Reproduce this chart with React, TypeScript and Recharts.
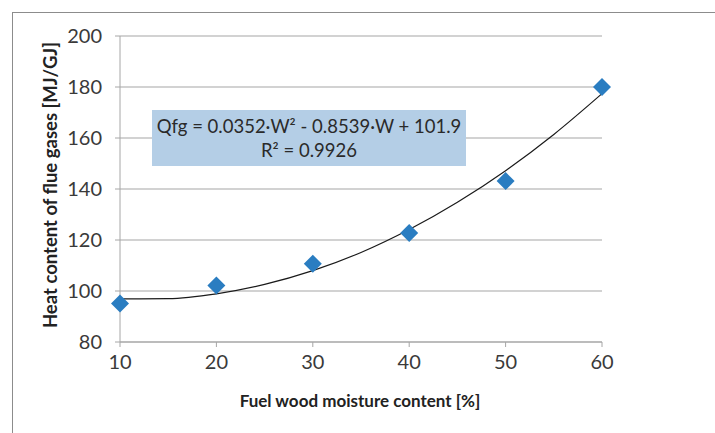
import React from "react";
import { ComposedChart, XAxis, YAxis, CartesianGrid, Line, Scatter } from "recharts";

const moisture = [10, 20, 30, 40, 50, 60];
const heatContent = [95.1, 102.2, 110.7, 122.7, 143.1, 180.0];

const trendMoisture = [10, 15, 20, 25, 30, 35, 40, 45, 50, 55, 60];
const trendHeat = [96.9, 97.0, 98.9, 102.6, 108.0, 115.1, 124.1, 134.8, 147.2, 161.4, 177.4];

const xTicks = [10, 20, 30, 40, 50, 60];
const yTicks = [80, 100, 120, 140, 160, 180, 200];

const equationText = "Qfg = 0.0352·W² - 0.8539·W + 101.9";
const r2Text = "R² = 0.9926";
const xTitle = "Fuel wood moisture content [%]";
const yTitle = "Heat content of flue gases [MJ/GJ]";

const points = moisture.map((w, i) => ({ w, q: heatContent[i] }));
const trend = trendMoisture.map((w, i) => ({ w, q: trendHeat[i] }));

const FONT = "Lato, 'Open Sans', sans-serif";
const AXIS_GRAY = "#a6a6a6";
const BLUE = "#2a7dc1";

const Diamond = (props: any) => {
  const { cx, cy } = props;
  const r = 9;
  return (
    <polygon
      points={`${cx},${cy - r} ${cx + r},${cy} ${cx},${cy + r} ${cx - r},${cy}`}
      fill={BLUE}
    />
  );
};

export default function App() {
  return (
    <div style={{ position: "absolute", left: 0, top: 0, width: 715, height: 433, background: "#fff", fontFamily: FONT }}>
      <div
        style={{
          position: "absolute",
          left: 12,
          top: 12,
          width: 703,
          height: 421,
          borderTop: "1.5px solid #8c8c8c",
          borderLeft: "1.5px solid #8c8c8c",
        }}
      />
      <ComposedChart
        width={715}
        height={433}
        margin={{ top: 36, right: 113, bottom: 31, left: 50 }}
        style={{ position: "absolute", left: 0, top: 0 }}
      >
        <CartesianGrid vertical={false} stroke={AXIS_GRAY} strokeWidth={1.2} />
        <XAxis
          type="number"
          dataKey="w"
          domain={[10, 60]}
          ticks={xTicks}
          height={60}
          stroke={AXIS_GRAY}
          tickSize={5}
          tickMargin={8}
          tick={{ fill: "#3a3a3a", fontSize: 20, fontFamily: FONT }}
        />
        <YAxis
          type="number"
          domain={[80, 200]}
          ticks={yTicks}
          width={70}
          stroke={AXIS_GRAY}
          tickSize={5}
          tickMargin={13}
          tick={{ fill: "#3a3a3a", fontSize: 20, fontFamily: FONT }}
        />
        <Line
          data={trend}
          dataKey="q"
          type="monotone"
          dot={false}
          stroke="#1a1a1a"
          strokeWidth={1.2}
          isAnimationActive={false}
        />
        <Scatter data={points} dataKey="q" shape={<Diamond />} isAnimationActive={false} />
      </ComposedChart>
      <div
        style={{
          position: "absolute",
          left: 152,
          top: 110,
          width: 314,
          height: 56,
          background: "#b4cee6",
          color: "#2a2a2a",
          fontSize: 18.5,
          lineHeight: "24px",
          textAlign: "center",
          paddingTop: 4,
          boxSizing: "border-box",
          whiteSpace: "nowrap",
        }}
      >
        <div>{equationText}</div>
        <div>{r2Text}</div>
      </div>
      <svg width={715} height={433} style={{ position: "absolute", left: 0, top: 0, pointerEvents: "none" }}>
        <text
          x={360}
          y={400}
          textAnchor="middle"
          dominantBaseline="central"
          fontFamily={FONT}
          fontWeight={700}
          fontSize={17}
          fill="#222"
        >
          {xTitle}
        </text>
        <text
          x={50}
          y={185}
          textAnchor="middle"
          dominantBaseline="central"
          fontFamily={FONT}
          fontWeight={700}
          fontSize={18.5}
          fill="#222"
          transform="rotate(-90 50 185)"
        >
          {yTitle}
        </text>
      </svg>
    </div>
  );
}
